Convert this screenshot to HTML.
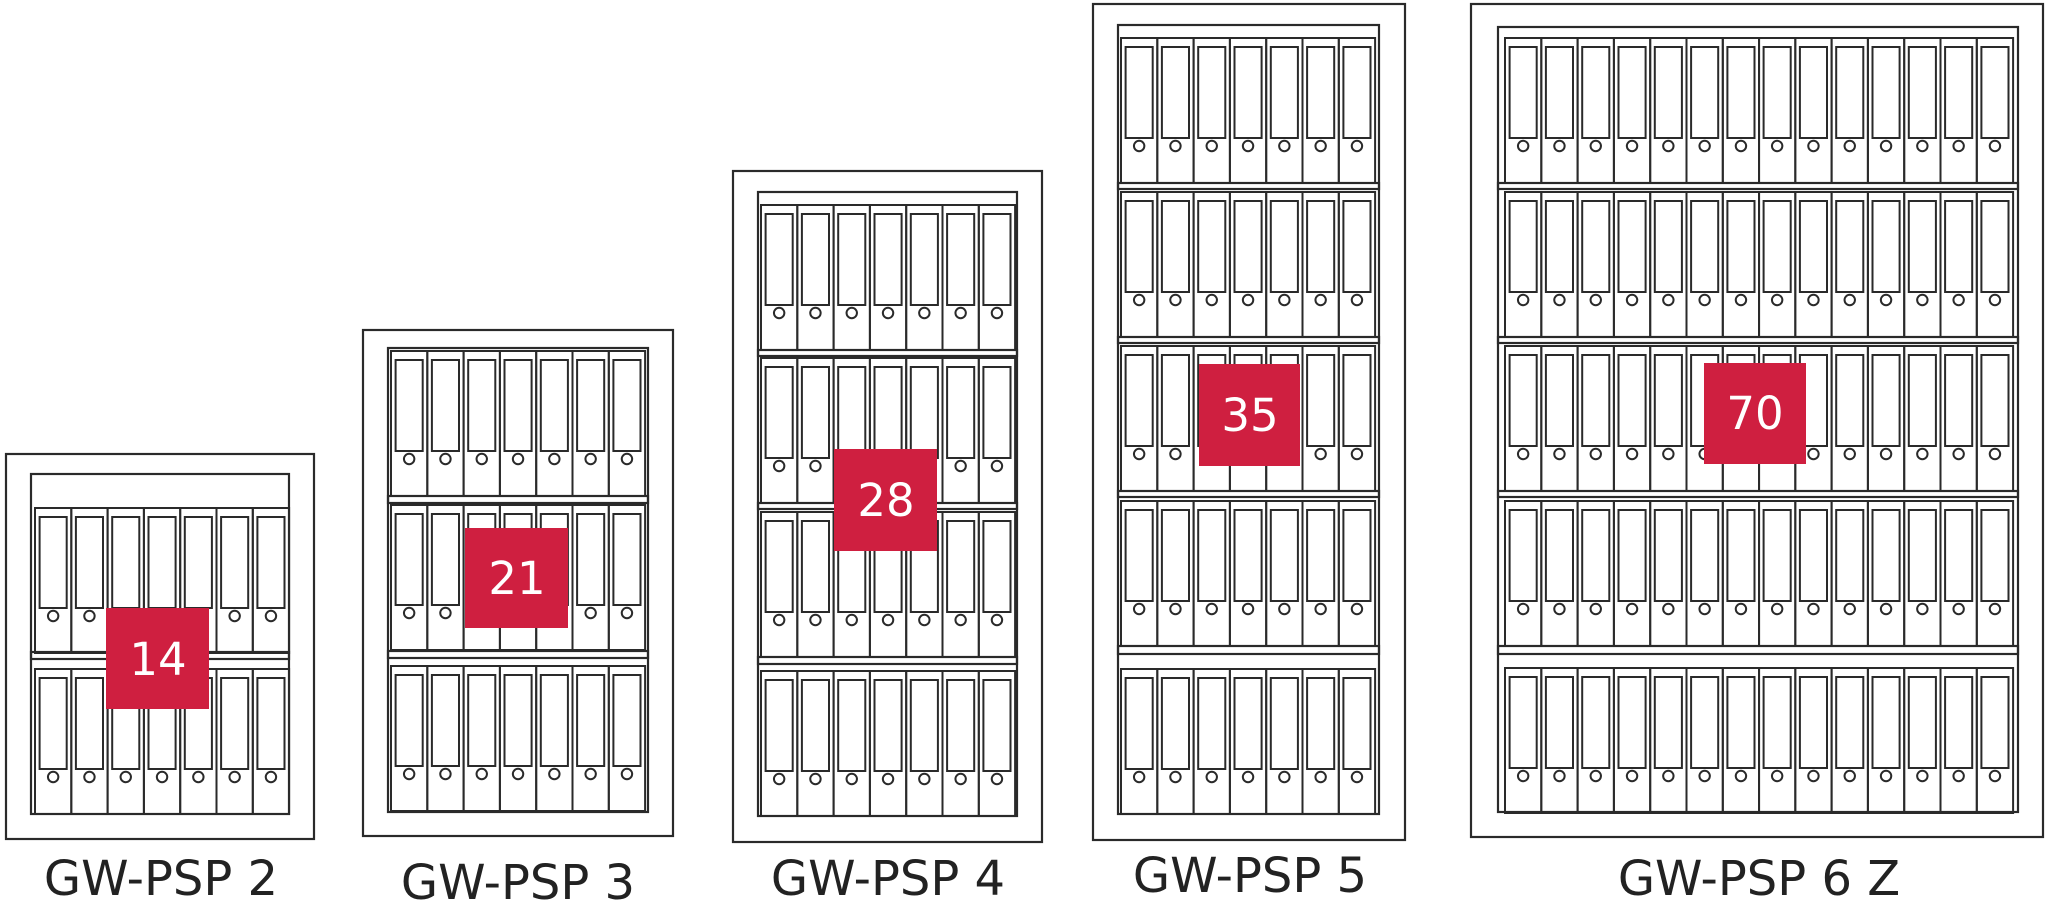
<!DOCTYPE html>
<html><head><meta charset="utf-8"><style>
html,body{margin:0;padding:0;background:#fff;width:2048px;height:901px;overflow:hidden}
svg{display:block}
text{font-family:"DejaVu Sans","Liberation Sans",sans-serif}
</style></head><body>
<svg width="2048" height="901" viewBox="0 0 2048 901" xmlns="http://www.w3.org/2000/svg">
<defs>
<g id="b" fill="none" stroke="#2a2a2a" stroke-width="2">
<rect x="0" y="0" width="36.3" height="145"/>
<rect x="4.6" y="9" width="27.1" height="91"/>
<circle cx="18.15" cy="108" r="5.2"/>
</g>
<g id="r">
<use href="#b" x="0"/><use href="#b" x="36.3"/><use href="#b" x="72.6"/><use href="#b" x="108.9"/><use href="#b" x="145.2"/><use href="#b" x="181.5"/><use href="#b" x="217.8"/>
</g>
</defs>
<g fill="none" stroke="#2a2a2a" stroke-width="2.2">
<rect x="6" y="454" width="308" height="385"/>
<rect x="363" y="330" width="310" height="506"/>
<rect x="733" y="171" width="309" height="671"/>
<rect x="1093" y="4" width="312" height="836"/>
<rect x="1471" y="4" width="572" height="833"/>
<rect x="31" y="474" width="258" height="340"/>
<rect x="388" y="348" width="260" height="464"/>
<rect x="758" y="192" width="259" height="624"/>
<rect x="1118" y="25" width="261" height="789"/>
<rect x="1498" y="27" width="520" height="785"/>
<rect x="31" y="652" width="258" height="7"/>
<rect x="388" y="496" width="260" height="7"/>
<rect x="388" y="651" width="260" height="7"/>
<rect x="758" y="350" width="259" height="6"/>
<rect x="758" y="503" width="259" height="6"/>
<rect x="758" y="657" width="259" height="7"/>
<rect x="1118" y="183" width="261" height="6"/>
<rect x="1118" y="337" width="261" height="6"/>
<rect x="1118" y="491" width="261" height="6"/>
<rect x="1118" y="646" width="261" height="8"/>
<rect x="1498" y="183" width="520" height="6"/>
<rect x="1498" y="337" width="520" height="6"/>
<rect x="1498" y="491" width="520" height="6"/>
<rect x="1498" y="646" width="520" height="8"/>
</g>
<use href="#r" x="35" y="508"/><use href="#r" x="35" y="669"/>
<use href="#r" x="391" y="351"/><use href="#r" x="391" y="505"/><use href="#r" x="391" y="666"/>
<use href="#r" x="761" y="205"/><use href="#r" x="761" y="358"/><use href="#r" x="761" y="512"/><use href="#r" x="761" y="671"/>
<use href="#r" x="1121" y="38"/><use href="#r" x="1121" y="192"/><use href="#r" x="1121" y="346"/><use href="#r" x="1121" y="501"/><use href="#r" x="1121" y="669"/>
<use href="#r" x="1505" y="38"/><use href="#r" x="1505" y="192"/><use href="#r" x="1505" y="346"/><use href="#r" x="1505" y="501"/><use href="#r" x="1505" y="668"/>
<use href="#r" x="1759" y="38"/><use href="#r" x="1759" y="192"/><use href="#r" x="1759" y="346"/><use href="#r" x="1759" y="501"/><use href="#r" x="1759" y="668"/>
<g fill="#cf1f40">
<rect x="106" y="608" width="103" height="101"/>
<rect x="465" y="528" width="103" height="100"/>
<rect x="834" y="449" width="103" height="102"/>
<rect x="1199" y="364" width="101" height="102"/>
<rect x="1704" y="363" width="102" height="101"/>
</g>
<g fill="#fff" font-size="45" text-anchor="middle">
<text x="158" y="675">14</text>
<text x="517" y="594">21</text>
<text x="886" y="516">28</text>
<text x="1250" y="431">35</text>
<text x="1755" y="429">70</text>
</g>
<g fill="#222" font-size="48" text-anchor="middle">
<text x="161" y="895">GW-PSP 2</text>
<text x="518" y="899">GW-PSP 3</text>
<text x="888" y="895">GW-PSP 4</text>
<text x="1250" y="892">GW-PSP 5</text>
<text x="1759" y="895">GW-PSP 6 Z</text>
</g>
</svg>
</body></html>
